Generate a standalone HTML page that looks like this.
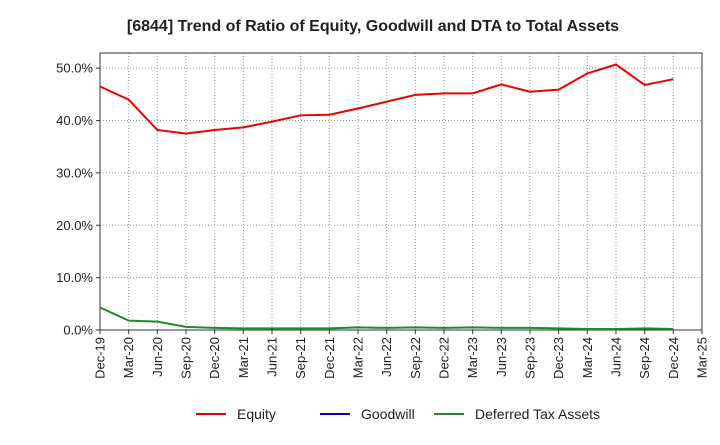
<!DOCTYPE html>
<html><head><meta charset="utf-8"><style>
body{margin:0;background:#fff;font-family:"Liberation Sans",sans-serif}
text{font-family:"Liberation Sans",sans-serif}
</style></head><body>
<svg id="chart" width="720" height="440">
<text x="373" y="31" text-anchor="middle" font-size="16" font-weight="bold" fill="#222">[6844]  Trend of Ratio of Equity, Goodwill and DTA to Total Assets</text>
<g id="grid"></g><g id="axes"></g><g id="series"></g>
<g>
<line x1="196" y1="414" x2="226" y2="414" stroke="#e00" stroke-width="2"/><text x="237" y="419" font-size="14" fill="#222">Equity</text>
<line x1="320" y1="414" x2="350" y2="414" stroke="#00c" stroke-width="2"/><text x="361" y="419" font-size="14" fill="#222">Goodwill</text>
<line x1="434" y1="414" x2="464" y2="414" stroke="#228b22" stroke-width="2"/><text x="475" y="419" font-size="14" fill="#222">Deferred Tax Assets</text>
</g>
</svg>
<script>
const categories=["Dec-19","Mar-20","Jun-20","Sep-20","Dec-20","Mar-21","Jun-21","Sep-21","Dec-21","Mar-22","Jun-22","Sep-22","Dec-22","Mar-23","Jun-23","Sep-23","Dec-23","Mar-24","Jun-24","Sep-24","Dec-24","Mar-25"];
const equity=[46.5,44.0,38.2,37.5,38.2,38.7,39.8,41.0,41.1,42.3,43.6,44.9,45.2,45.2,46.9,45.5,45.9,49.0,50.7,46.8,47.9];
const goodwill=[];
const dta=[4.3,1.8,1.6,0.6,0.4,0.3,0.3,0.3,0.3,0.5,0.4,0.5,0.4,0.5,0.4,0.4,0.3,0.2,0.2,0.3,0.2];
const yTicks=[0,10,20,30,40,50];
const X0=100,X1=702,Y0=330,YT=53,YMAX=52.9;
const NS="http://www.w3.org/2000/svg";
const xs=i=>X0+(X1-X0)*i/(categories.length-1);
const ys=v=>Y0-(Y0-YT)*v/YMAX;
function mk(t,a,p){const e=document.createElementNS(NS,t);for(const k in a)e.setAttribute(k,a[k]);p.appendChild(e);return e;}
const grid=document.getElementById('grid'),axes=document.getElementById('axes'),ser=document.getElementById('series');
categories.forEach((c,i)=>{const x=xs(i);
const g=mk('line',{x1:x,x2:x,y1:YT,y2:Y0,stroke:'#999','stroke-dasharray':'1,2','stroke-width':1},grid);


mk('line',{x1:x,x2:x,y1:Y0,y2:Y0+4,stroke:'#333'},axes);
const t=mk('text',{x:0,y:0,'font-size':13,fill:'#222','text-anchor':'end',transform:`translate(${x+4.5},${Y0+7}) rotate(-90)`},axes);
t.textContent=c;

});
yTicks.forEach(v=>{const y=ys(v);
const g=mk('line',{x1:X0,x2:X1,y1:y,y2:y,stroke:'#999','stroke-dasharray':'1,2'},grid);


mk('line',{x1:X0-4,x2:X0,y1:y,y2:y,stroke:'#333'},axes);
const t=mk('text',{x:X0-7,y:y+4.5,'font-size':13,fill:'#222','text-anchor':'end'},axes);
t.textContent=v.toFixed(1)+'%';

});
const r=mk('rect',{x:X0,y:YT,width:X1-X0,height:Y0-YT,fill:'none',stroke:'#333'},axes);


function line(arr,col,name){if(!arr.length)return;
const p=mk('polyline',{points:arr.map((v,i)=>xs(i)+','+ys(v)).join(' '),fill:'none',stroke:col,'stroke-width':2},ser);

}
line(dta,'#228b22','dta-line');
line(goodwill,'#00c','goodwill-line');
line(equity,'#e00','equity-line');
</script>
</body></html>
